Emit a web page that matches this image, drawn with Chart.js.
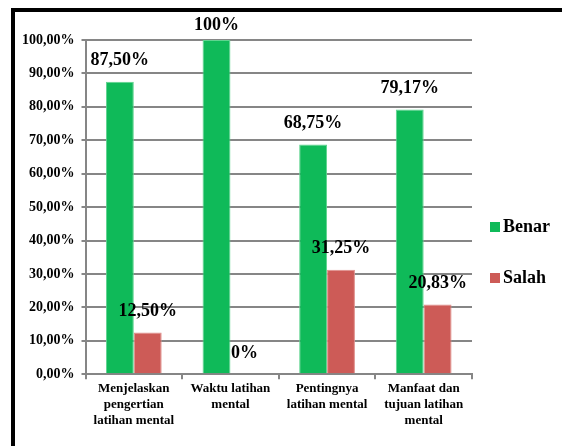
<!DOCTYPE html>
<html>
<head>
<meta charset="utf-8">
<script src="https://cdn.jsdelivr.net/npm/chart.js@4"></script>
<style>
  body { margin: 0; background: #fff; }
  #wrap { position: relative; width: 562px; height: 446px; }
  #frame { position: absolute; left: 11px; top: 8px; right: 0; bottom: 0; border-left: 4px solid #000; border-top: 4px solid #000; }
  canvas { position: absolute; left: 0; top: 0; }
</style>
</head>
<body>
<div id="wrap">
  <div id="frame"></div>
  <canvas id="chart" width="562" height="446"></canvas>
</div>
<script>
const categories = [
  ['Menjelaskan', 'pengertian', 'latihan mental'],
  ['Waktu latihan', 'mental'],
  ['Pentingnya', 'latihan mental'],
  ['Manfaat dan', 'tujuan latihan', 'mental']
];
const benar = [87.5, 100, 68.75, 79.17];
const salah = [12.5, 0, 31.25, 20.83];
const benarLabels = ['87,50%', '100%', '68,75%', '79,17%'];
const salahLabels = ['12,50%', '0%', '31,25%', '20,83%'];
const seriesNames = ['Benar', 'Salah'];
const colors = ['#0fba59', '#cd5b57'];

const serif = "'Liberation Serif', 'Times New Roman', serif";
const gridColor = '#868686';

// value labels above each bar
const valueLabels = {
  id: 'valueLabels',
  afterDatasetsDraw(chart) {
    const ctx = chart.ctx;
    const texts = [benarLabels, salahLabels];
    ctx.save();
    ctx.font = 'bold 18px ' + serif;
    ctx.fillStyle = '#000';
    ctx.textAlign = 'center';
    ctx.textBaseline = 'middle';
    chart.data.datasets.forEach((ds, i) => {
      chart.getDatasetMeta(i).data.forEach((bar, j) => {
        const y = Math.max(bar.y - 21, 25);
        ctx.fillText(texts[i][j], bar.x, y);
      });
    });
    ctx.restore();
  }
};

// legend on the right
const sideLegend = {
  id: 'sideLegend',
  afterDraw(chart) {
    const ctx = chart.ctx;
    const rows = [227, 278];
    ctx.save();
    ctx.font = 'bold 18px ' + serif;
    ctx.textBaseline = 'middle';
    chart.data.datasets.forEach((ds, i) => {
      ctx.fillStyle = ds.backgroundColor;
      ctx.fillRect(490, rows[i] - 5, 10, 10);
      ctx.fillStyle = '#000';
      ctx.fillText(ds.label, 503, rows[i]);
    });
    ctx.restore();
  }
};

new Chart('chart', {
  type: 'bar',
  data: {
    labels: categories,
    datasets: [
      { label: seriesNames[0], data: benar, backgroundColor: colors[0], borderColor: '#5fd48f', borderWidth: 1 },
      { label: seriesNames[1], data: salah, backgroundColor: colors[1], borderColor: '#e08e8a', borderWidth: 1 }
    ]
  },
  options: {
    responsive: false,
    animation: false,
    categoryPercentage: 0.577,
    barPercentage: 1,
    layout: { padding: { left: 15, right: 90, top: 40, bottom: 16 } },
    plugins: {
      legend: { display: false },
      tooltip: { enabled: false }
    },
    scales: {
      x: {
        grid: { drawOnChartArea: false, color: gridColor, lineWidth: 2, tickLength: 5, offset: true },
        border: { color: gridColor, width: 2 },
        ticks: {
          color: '#000',
          padding: 2,
          maxRotation: 0,
          font: { family: serif, size: 13, weight: 'bold', lineHeight: 1.2 }
        }
      },
      y: {
        min: 0,
        max: 100,
        grid: { color: gridColor, lineWidth: 2, tickLength: 4 },
        border: { color: gridColor, width: 2 },
        ticks: {
          stepSize: 10,
          color: '#000',
          padding: 7,
          font: { family: serif, size: 14, weight: 'bold' },
          callback: v => v.toFixed(2).replace('.', ',') + '%'
        }
      }
    }
  },
  plugins: [valueLabels, sideLegend]
});
</script>
</body>
</html>
